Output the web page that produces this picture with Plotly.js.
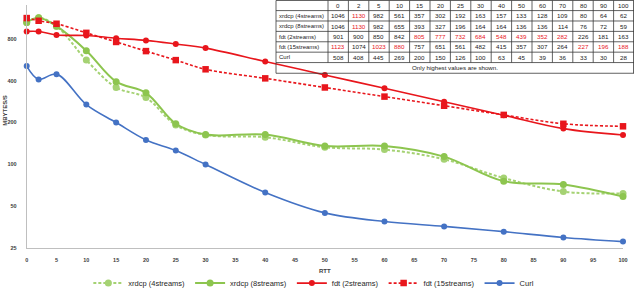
<!DOCTYPE html>
<html>
<head>
<meta charset="utf-8">
<script src="https://cdn.plot.ly/plotly-3.0.1.min.js"></script>
<style>
  html, body { margin: 0; padding: 0; background: #fff; }
  #chart { width: 634px; height: 298px; }
</style>
</head>
<body>
<div id="chart"></div>
<script>
// RTT values (ms) along the x axis, also used as table column headers
const rtt = [0, 2, 5, 10, 15, 20, 25, 30, 40, 50, 60, 70, 80, 90, 100];

// Throughput (MBytes/s) per tool
const xrdcp4 = [1046, 1130, 982, 561, 357, 302, 192, 163, 157, 133, 128, 109, 80, 64, 62];
const xrdcp8 = [1046, 1130, 982, 655, 393, 327, 196, 164, 164, 136, 136, 114, 76, 72, 59];
const fdt2   = [901, 900, 850, 842, 805, 777, 732, 684, 548, 439, 352, 282, 226, 181, 163];
const fdt15  = [1123, 1074, 1023, 880, 757, 651, 561, 482, 415, 357, 307, 264, 227, 196, 188];
const curl   = [508, 408, 445, 269, 200, 150, 126, 100, 63, 45, 39, 36, 33, 30, 28];

const seriesNames = ['xrdcp (4streams)', 'xrdcp (8streams)', 'fdt (2streams)', 'fdt (15streams)', 'Curl'];
const tableNote = 'Only highest values are shown.';

const xTicks = [0, 5, 10, 15, 20, 25, 30, 35, 40, 45, 50, 55, 60, 65, 70, 75, 80, 85, 90, 95, 100];
const yTicks = [25, 50, 100, 200, 400, 800];

// ---- geometry helpers (pixel -> paper) ----
const W = 634, H = 298;
const px = x => x / W;
const py = y => 1 - y / H;

const RED = '#E8161C', BLUE = '#4472C4', GREEN = '#8DC54F', GREEN_L = '#A5D273';

function series(y, name, color, dash, symbol, size, width) {
  return {
    x: rtt, y: y, name: name, type: 'scatter', mode: 'lines+markers',
    cliponaxis: false,
    line: { color: color, width: width, dash: dash, shape: 'spline', smoothing: 1 },
    marker: { symbol: symbol, size: size, color: color }
  };
}

const traces = [
  series(xrdcp4, seriesNames[0], GREEN_L, '3px,2px', 'circle', 7, 2),
  series(xrdcp8, seriesNames[1], GREEN, 'solid', 'circle', 7, 2),
  series(curl, seriesNames[4], BLUE, 'solid', 'circle', 6, 1.6),
  series(fdt2, seriesNames[2], RED, 'solid', 'circle', 6, 1.6),
  series(fdt15, seriesNames[3], RED, '3px,2px', 'square', 6.5, 1.6)
];
traces[0].legendrank = 1;
traces[1].legendrank = 2;
traces[3].legendrank = 3;
traces[4].legendrank = 4;
traces[2].legendrank = 5;

// ---- data table in the top-right corner ----
const rows = [xrdcp4, xrdcp8, fdt2, fdt15, curl];
const tLeft = 276, tLabelRight = 328, tRight = 634;
const colW = (tRight - tLabelRight) / rtt.length;
const rowEdges = [0.5, 10.7, 21.2, 31.7, 42.2, 52.7, 63.2];
const tBottom = 74;
const lineStyle = { color: '#3a3a3a', width: 0.8 };
const tFont = { family: 'Liberation Sans, Arial, sans-serif', size: 6.2, color: '#1a1a1a' };

const shapes = [];
const annotations = [];

// horizontal rules
rowEdges.concat([tBottom]).forEach(y => {
  shapes.push({ type: 'line', xref: 'paper', yref: 'paper', x0: px(tLeft), x1: px(tRight), y0: py(y), y1: py(y), line: lineStyle });
});
// outer verticals
[tLeft, tRight - 0.5].forEach(x => {
  shapes.push({ type: 'line', xref: 'paper', yref: 'paper', x0: px(x), x1: px(x), y0: py(rowEdges[0]), y1: py(tBottom), line: lineStyle });
});
// inner verticals
for (let c = 0; c < rtt.length; c++) {
  const x = tLabelRight + c * colW;
  shapes.push({ type: 'line', xref: 'paper', yref: 'paper', x0: px(x), x1: px(x), y0: py(rowEdges[0]), y1: py(rowEdges[rowEdges.length - 1]), line: lineStyle });
}

const rowMid = i => (rowEdges[i] + rowEdges[i + 1]) / 2;
const colMid = c => tLabelRight + (c + 0.5) * colW;

// header
rtt.forEach((v, c) => {
  annotations.push({ xref: 'paper', yref: 'paper', x: px(colMid(c)), y: py(rowMid(0)), text: String(v), showarrow: false, xanchor: 'center', yanchor: 'middle', font: tFont });
});
// body: the largest value in each column is highlighted in red
rows.forEach((vals, r) => {
  annotations.push({ xref: 'paper', yref: 'paper', x: px(tLeft + 1), y: py(rowMid(r + 1)), text: seriesNames[r], showarrow: false, xanchor: 'left', yanchor: 'middle', font: Object.assign({}, tFont, { size: 6 }) });
  vals.forEach((v, c) => {
    const colMax = Math.max(...rows.map(rw => rw[c]));
    annotations.push({
      xref: 'paper', yref: 'paper', x: px(colMid(c)), y: py(rowMid(r + 1)), text: String(v), showarrow: false,
      xanchor: 'center', yanchor: 'middle',
      font: Object.assign({}, tFont, { color: v === colMax ? '#E8161C' : '#1a1a1a' })
    });
  });
});
annotations.push({ xref: 'paper', yref: 'paper', x: px((tLeft + tRight) / 2), y: py((rowEdges[6] + tBottom) / 2), text: tableNote, showarrow: false, xanchor: 'center', yanchor: 'middle', font: tFont });

// axis titles
const axisFont = { family: 'Liberation Sans, Arial, sans-serif', size: 6, color: '#404040', weight: 'bold' };
annotations.push({ xref: 'paper', yref: 'paper', x: px(325), y: py(274), text: 'RTT', showarrow: false, xanchor: 'center', yanchor: 'middle', font: axisFont });
annotations.push({ xref: 'paper', yref: 'paper', x: px(5), y: py(112), text: 'MBYTES/S', textangle: -90, showarrow: false, xanchor: 'center', yanchor: 'middle', font: axisFont });

const layout = {
  width: W, height: H,
  margin: { l: 0, r: 0, t: 0, b: 0 },
  paper_bgcolor: '#ffffff', plot_bgcolor: '#ffffff',
  showlegend: true,
  legend: {
    orientation: 'h', x: 0.495, xanchor: 'center', y: py(286), yanchor: 'middle',
    font: { family: 'Liberation Sans, Arial, sans-serif', size: 7.5, color: '#262626' },
    itemwidth: 30, bgcolor: 'rgba(0,0,0,0)', traceorder: 'normal'
  },
  xaxis: {
    domain: [px(26.7), px(623)], range: [0, 100],
    tickmode: 'array', tickvals: xTicks, ticktext: xTicks.map(String),
    ticks: 'outside', ticklen: 6, tickcolor: 'rgba(0,0,0,0)',
    tickfont: { family: 'Liberation Sans, Arial, sans-serif', size: 5.5, color: '#404040', weight: 'bold' },
    showline: true, linecolor: '#BFBFBF', linewidth: 1,
    showgrid: false, zeroline: false
  },
  yaxis: {
    type: 'log', domain: [py(251), py(5)], range: [Math.log10(25), Math.log10(1395)],
    tickmode: 'array', tickvals: yTicks, ticktext: yTicks.map(String),
    ticks: 'outside', ticklen: 8, tickcolor: 'rgba(0,0,0,0)',
    tickfont: { family: 'Liberation Sans, Arial, sans-serif', size: 5.5, color: '#404040', weight: 'bold' },
    showline: true, linecolor: '#BFBFBF', linewidth: 1,
    showgrid: false, zeroline: false
  },
  shapes: shapes,
  annotations: annotations
};

Plotly.newPlot('chart', traces, layout, { staticPlot: true, displayModeBar: false });
</script>
</body>
</html>
